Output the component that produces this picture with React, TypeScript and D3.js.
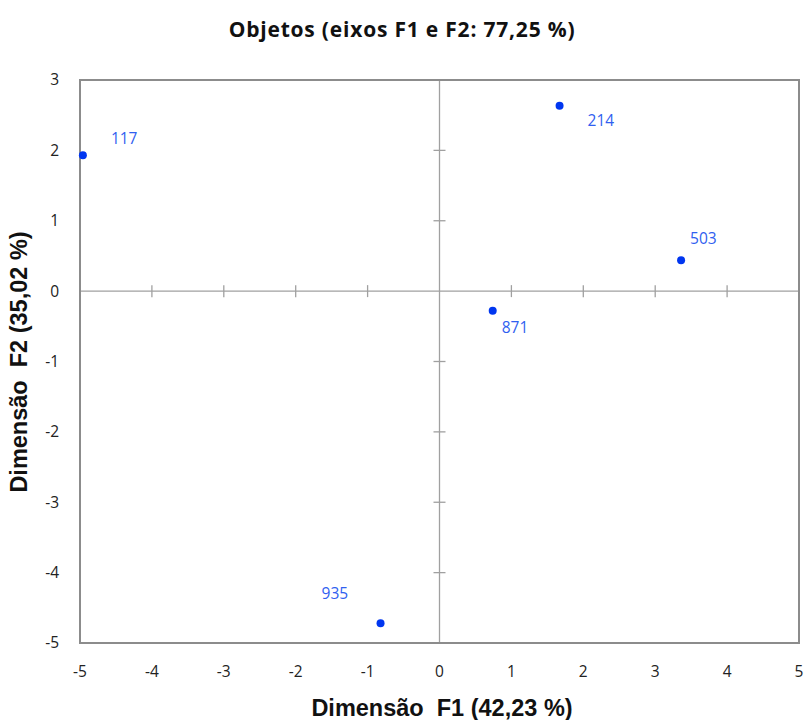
import { useRef, useEffect } from "react";
import * as d3 from "d3";

// Observation labels and their F1 / F2 coordinates
const labels = ["117", "214", "503", "871", "935"];
const f1 = [-4.96, 1.67, 3.36, 0.74, -0.82];
const f2 = [1.93, 2.635, 0.44, -0.28, -4.72];

const xTicks = [-5, -4, -3, -2, -1, 0, 1, 2, 3, 4, 5];
const yTicks = [-5, -4, -3, -2, -1, 0, 1, 2, 3];

const W = 804;
const H = 720;
const M = { top: 80, right: 5, bottom: 77, left: 80 };

// label placement relative to each point (dx, dy to baseline)
const labelOffset: Record<string, [number, number]> = {
  "117": [28, -11],
  "214": [28, 20],
  "503": [9, -16],
  "871": [9, 22],
  "935": [-59, -24],
};

export default function App() {
  const svgRef = useRef<SVGSVGElement>(null);

  useEffect(() => {
    const svg = d3.select(svgRef.current);
    svg.selectAll("*").remove();

    const x = d3.scaleLinear().domain([-5, 5]).range([M.left, W - M.right]);
    const y = d3.scaleLinear().domain([-5, 3]).range([H - M.bottom, M.top]);

    const frame = "#8c8c8c";
    const axisCol = "#a0a0a0";

    // title
    svg.append("text")
      .attr("x", 402).attr("y", 37)
      .attr("text-anchor", "middle")
      .attr("font-family", "'Open Sans', sans-serif")
      .attr("font-weight", 700)
      .attr("font-size", 21)
      .attr("letter-spacing", 0.8)
      .attr("fill", "#111")
      .text("Objetos (eixos F1 e F2: 77,25 %)");

    // inner axes through origin
    const g = svg.append("g");
    g.append("line")
      .attr("x1", x(-5)).attr("x2", x(5))
      .attr("y1", y(0)).attr("y2", y(0))
      .attr("stroke", axisCol).attr("stroke-width", 1.3);
    g.append("line")
      .attr("x1", x(0)).attr("x2", x(0))
      .attr("y1", y(-5)).attr("y2", y(3))
      .attr("stroke", axisCol).attr("stroke-width", 1.3);

    g.selectAll(".xt")
      .data(xTicks.filter((t) => t !== 0 && t !== -5 && t !== 5))
      .enter().append("line")
      .attr("x1", (d) => x(d)).attr("x2", (d) => x(d))
      .attr("y1", y(0) - 6).attr("y2", y(0) + 6)
      .attr("stroke", axisCol).attr("stroke-width", 1.3);

    g.selectAll(".yt")
      .data(yTicks.filter((t) => t !== 0 && t !== -5 && t !== 3))
      .enter().append("line")
      .attr("x1", x(0) - 6).attr("x2", x(0) + 6)
      .attr("y1", (d) => y(d)).attr("y2", (d) => y(d))
      .attr("stroke", axisCol).attr("stroke-width", 1.3);

    // frame
    svg.append("rect")
      .attr("x", x(-5)).attr("y", y(3))
      .attr("width", x(5) - x(-5)).attr("height", y(-5) - y(3))
      .attr("fill", "none")
      .attr("stroke", frame).attr("stroke-width", 2);

    // tick labels
    svg.selectAll(".xl")
      .data(xTicks)
      .enter().append("text")
      .attr("x", (d) => x(d)).attr("y", 677)
      .attr("text-anchor", "middle")
      .attr("font-family", "'Open Sans', sans-serif")
      .attr("font-size", 15.5)
      .attr("fill", "#222")
      .text((d) => String(d));

    svg.selectAll(".yl")
      .data(yTicks)
      .enter().append("text")
      .attr("x", 59).attr("y", (d) => y(d))
      .attr("dy", "0.35em")
      .attr("text-anchor", "end")
      .attr("font-family", "'Open Sans', sans-serif")
      .attr("font-size", 15.5)
      .attr("fill", "#222")
      .text((d) => String(d));

    // axis titles
    svg.append("text")
      .attr("x", 442).attr("y", 716)
      .attr("text-anchor", "middle")
      .attr("font-family", "'Liberation Sans', Arial, sans-serif")
      .attr("font-weight", 700)
      .attr("font-size", 23.5)
      .attr("fill", "#111")
      .style("white-space", "pre")
      .text("Dimensão  F1 (42,23 %)");

    svg.append("text")
      .attr("transform", "translate(27,362) rotate(-90)")
      .attr("text-anchor", "middle")
      .attr("font-family", "'Liberation Sans', Arial, sans-serif")
      .attr("font-weight", 700)
      .attr("font-size", 23.5)
      .attr("fill", "#111")
      .style("white-space", "pre")
      .text("Dimensão  F2 (35,02 %)");

    // points
    const pts = labels.map((l, i) => ({ label: l, f1: f1[i], f2: f2[i] }));
    svg.selectAll(".pt")
      .data(pts)
      .enter().append("circle")
      .attr("cx", (d) => x(d.f1)).attr("cy", (d) => y(d.f2))
      .attr("r", 4)
      .attr("fill", "#0036f0");

    svg.selectAll(".pl")
      .data(pts)
      .enter().append("text")
      .attr("x", (d) => x(d.f1) + labelOffset[d.label][0])
      .attr("y", (d) => y(d.f2) + labelOffset[d.label][1])
      .attr("font-family", "'Open Sans', sans-serif")
      .attr("font-size", 15.5)
      .attr("fill", "#3060f0")
      .text((d) => d.label);
  }, []);

  return (
    <svg
      ref={svgRef}
      width={W}
      height={H}
      style={{ display: "block", position: "absolute", left: 0, top: 0, background: "#fff" }}
    />
  );
}
